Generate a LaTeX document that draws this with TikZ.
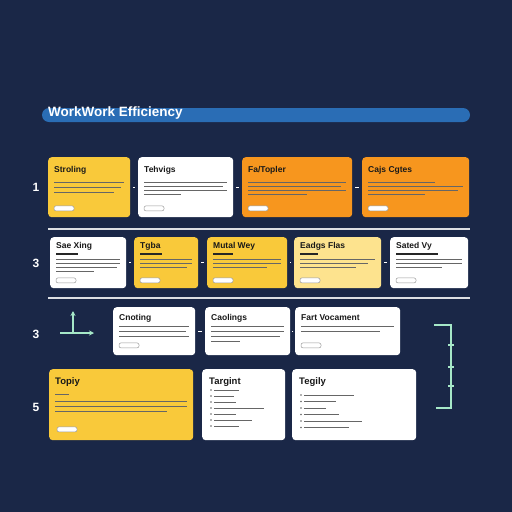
\documentclass[tikz,border=0pt]{standalone}
\usepackage{fontspec}
\setmainfont{Liberation Sans}
\usetikzlibrary{arrows.meta}

\definecolor{navy}{HTML}{1A2747}
\definecolor{barblue}{HTML}{2A6DB5}
\definecolor{cyel}{HTML}{F9C93A}
\definecolor{corange}{HTML}{F7961E}
\definecolor{clight}{HTML}{FDE38E}
\definecolor{mint}{HTML}{A6E8C8}

\tikzset{
  cardbox/.style={draw=none, rounded corners=3.5pt, inner sep=0pt},
  cardtitle/.style={font=\bfseries\fontsize{8.5}{9}\selectfont, text=black!90, inner sep=0pt},
  bigtitle/.style={font=\bfseries\fontsize{9.5}{10}\selectfont, text=black!90, inner sep=0pt},
  textline/.style={line width=1pt, draw=black!60},
  subline/.style={line width=1.5pt, draw=black!85},
  pill/.style={draw=black!40, fill=white, rounded corners=2pt, minimum width=20pt,
    minimum height=5pt, inner sep=0pt, line width=0.5pt},
  link/.style={draw=white, line width=1pt, shorten <=3pt, shorten >=3pt},
  rownum/.style={font=\bfseries\fontsize{12}{12}\selectfont, text=white},
  guide/.style={draw=mint, line width=1.4pt},
  sepline/.style={draw=white!85!navy, line width=1.2pt},
}

% card: name, x, y, width, height, fill, title, title offset, lines (dy/length)
\newcommand\card[9]{%
  \node[cardbox, fill=#6, minimum width=#4pt, minimum height=#5pt, anchor=north west] (#1) at (#2,#3) {};
  \node[cardtitle, anchor=base west] (#1-t) at ([shift={(6,#8)}]#1.north west) {#7};
  \foreach \dy/\f in {#9}
    \draw[textline] ([shift={(6,\dy)}]#1.north west) -- ++({(#4-12)*\f},0);
}

\begin{document}
\begin{tikzpicture}[x=1pt, y=-1pt]
  \useasboundingbox (0,0) rectangle (512,512);
  \fill[navy] (0,0) rectangle (512,512);

  % heading
  \fill[barblue, rounded corners=7pt] (42,108) rectangle (470,122);
  \node[font=\bfseries\fontsize{13.5}{14}\selectfont, text=white, anchor=base west, inner sep=0pt]
    (head) at (48,116) {WorkWork Efficiency};

  % row numbers
  \node[rownum] (n1) at (36,187) {1};
  \node[rownum] (n2) at (36,263) {3};
  \node[rownum] (n3) at (36,334) {3};
  \node[rownum] (n4) at (36,407) {5};

  % separators
  \coordinate (sa-l) at (48,229);  \coordinate (sa-r) at (470,229);
  \coordinate (sb-l) at (48,298);  \coordinate (sb-r) at (470,298);
  \draw[sepline] (sa-l) -- (sa-r);
  \draw[sepline] (sb-l) -- (sb-r);

  % row 1
  \card{c1a}{48}{157}{82}{60}{cyel}{Stroling}{15}{25/1, 30/.95, 35/.85}
  \card{c1b}{138}{157}{95}{60}{white}{Tehvigs}{15}{25/1, 29/.95, 33/1, 37/.45}
  \card{c1c}{242}{157}{110}{60}{corange}{Fa/Topler}{15}{25/1, 29/.95, 33/1, 37/.6}
  \card{c1d}{362}{157}{107}{60}{corange}{Cajs Cgtes}{15}{25/.7, 29/1, 33/.95, 37/.6}
  \foreach \c in {c1a,c1b,c1c,c1d}
    \node[pill] (\c-p) at ([shift={(16,-9)}]\c.south west) {};
  \draw[link] (c1a) -- (c1b);
  \draw[link] (c1b) -- (c1c);
  \draw[link] (c1c) -- (c1d);

  % row 2
  \card{c2a}{50}{237}{76}{51}{white}{Sae Xing}{11}{22/1, 26/1, 30/.95, 34/.6}
  \card{c2b}{134}{237}{64}{51}{cyel}{Tgba}{11}{22/1, 26/1, 30/.9}
  \card{c2c}{207}{237}{80}{51}{cyel}{Mutal Wey}{11}{22/1, 26/1, 30/.8}
  \card{c2d}{294}{237}{87}{51}{clight}{Eadgs Flas}{11}{22/1, 26/.9, 30/.75}
  \card{c2e}{390}{237}{78}{51}{white}{Sated Vy}{11}{22/1, 26/1, 30/.7}
  \draw[subline] ([shift={(6,17)}]c2a.north west) -- ++(22,0);
  \draw[subline] ([shift={(6,17)}]c2b.north west) -- ++(22,0);
  \draw[subline] ([shift={(6,17)}]c2c.north west) -- ++(20,0);
  \draw[subline] ([shift={(6,17)}]c2d.north west) -- ++(18,0);
  \draw[subline] ([shift={(6,17)}]c2e.north west) -- ++(42,0);
  \foreach \c in {c2a,c2b,c2c,c2d,c2e}
    \node[pill] (\c-p) at ([shift={(16,-8)}]\c.south west) {};
  \draw[link] (c2a) -- (c2b);
  \draw[link] (c2b) -- (c2c);
  \draw[link] (c2c) -- (c2d);
  \draw[link] (c2d) -- (c2e);

  % row 3
  \coordinate (ax-o) at (73,333);
  \coordinate (ax-u) at (73,311);
  \coordinate (ax-l) at (60,333);
  \coordinate (ax-r) at (94,333);
  \draw[guide, -{Stealth[length=5pt, width=5pt]}] (ax-o) -- (ax-u);
  \draw[guide, -{Stealth[length=5pt, width=5pt]}] (ax-l) -- (ax-r);
  \card{c3a}{113}{307}{82}{48}{white}{Cnoting}{13}{19/1, 24/.95, 29/1}
  \card{c3b}{205}{307}{85}{48}{white}{Caolings}{13}{19/1, 24/1, 29/.95, 34/.4}
  \card{c3c}{295}{307}{105}{48}{white}{Fart Vocament}{13}{19/1, 24/.85}
  \node[pill] (c3a-p) at ([shift={(16,-10)}]c3a.south west) {};
  \node[pill] (c3c-p) at ([shift={(16,-10)}]c3c.south west) {};
  \draw[link] (c3a) -- (c3b);
  \draw[link] (c3b) -- (c3c);

  % bracket
  \coordinate (br-a) at (434,325);
  \coordinate (br-b) at (451,325);
  \coordinate (br-c) at (451,408);
  \coordinate (br-d) at (436,408);
  \draw[guide] (br-a) -- (br-b) -- (br-c) -- (br-d);
  \foreach \y in {345,367,386}
    \draw[guide] (448,\y) -- (454,\y);

  % row 4
  \node[cardbox, fill=cyel, minimum width=144pt, minimum height=71pt, anchor=north west] (c4a) at (49,369) {};
  \node[bigtitle, anchor=base west] (c4a-t) at ([shift={(6,15)}]c4a.north west) {Topiy};
  \draw[textline] ([shift={(6,25)}]c4a.north west) -- ++(14,0);
  \foreach \dy/\f in {32/1, 37/1, 42/.85}
    \draw[textline] ([shift={(6,\dy)}]c4a.north west) -- ++({132*\f},0);
  \node[pill] (c4a-p) at ([shift={(18,-11)}]c4a.south west) {};

  \node[cardbox, fill=white, minimum width=83pt, minimum height=71pt, anchor=north west] (c4b) at (202,369) {};
  \node[bigtitle, anchor=base west] (c4b-t) at ([shift={(7,15)}]c4b.north west) {Targint};
  \foreach \dy/\w in {21/25, 27/20, 33/22, 39/50, 45/22, 51/38, 57/25} {
    \fill[black!60] ([shift={(9,\dy)}]c4b.north west) circle (0.8pt);
    \draw[textline] ([shift={(12,\dy)}]c4b.north west) -- ++(\w,0);
  }

  \node[cardbox, fill=white, minimum width=124pt, minimum height=71pt, anchor=north west] (c4c) at (292,369) {};
  \node[bigtitle, anchor=base west] (c4c-t) at ([shift={(7,15)}]c4c.north west) {Tegily};
  \foreach \dy/\w in {26/50, 32.5/32, 39/22, 45.5/35, 52/58, 58.5/45} {
    \fill[black!60] ([shift={(9,\dy)}]c4c.north west) circle (0.8pt);
    \draw[textline] ([shift={(12,\dy)}]c4c.north west) -- ++(\w,0);
  }
\end{tikzpicture}
\end{document}
